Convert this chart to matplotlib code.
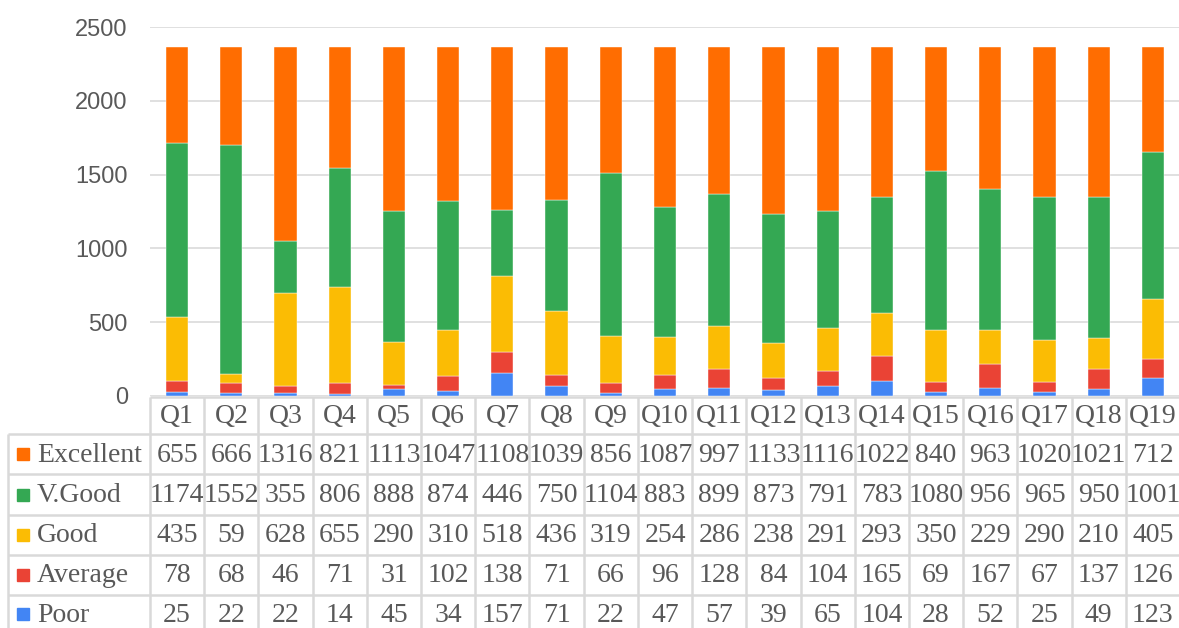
import matplotlib
matplotlib.use("Agg")
import matplotlib.pyplot as plt
from matplotlib.transforms import blended_transform_factory
from matplotlib.patches import Rectangle
import numpy as np

categories = [f"Q{i}" for i in range(1, 20)]
series_names = ["Excellent", "V.Good", "Good", "Average", "Poor"]
excellent = [655, 666, 1316, 821, 1113, 1047, 1108, 1039, 856, 1087, 997, 1133, 1116, 1022, 840, 963, 1020, 1021, 712]
vgood = [1174, 1552, 355, 806, 888, 874, 446, 750, 1104, 883, 899, 873, 791, 783, 1080, 956, 965, 950, 1001]
good = [435, 59, 628, 655, 290, 310, 518, 436, 319, 254, 286, 238, 291, 293, 350, 229, 290, 210, 405]
average = [78, 68, 46, 71, 31, 102, 138, 71, 66, 96, 128, 84, 104, 165, 69, 167, 67, 137, 126]
poor = [25, 22, 22, 14, 45, 34, 157, 71, 22, 47, 57, 39, 65, 104, 28, 52, 25, 49, 123]
yticks = [0, 500, 1000, 1500, 2000, 2500]

colors = {"Excellent": "#FF6D01", "V.Good": "#34A853", "Good": "#FBBC04",
          "Average": "#EA4335", "Poor": "#4285F4"}
values = {"Excellent": excellent, "V.Good": vgood, "Good": good,
          "Average": average, "Poor": poor}

W, H = 1179, 628
fig = plt.figure(figsize=(W / 100, H / 100), dpi=100)
fig.patch.set_facecolor("white")

ax = fig.add_axes([150 / W, 232 / H, 1030 / W, 369 / H])
x = np.arange(len(categories))
bottom = np.zeros(len(categories))
for name in ["Poor", "Average", "Good", "V.Good", "Excellent"]:
    v = np.array(values[name], dtype=float)
    ax.bar(x, v, bottom=bottom, width=0.41, color=colors[name],
           edgecolor="white", linewidth=0.3, zorder=3)
    bottom += v

ax.set_xlim(-0.5, 18.5)
ax.set_ylim(0, 2500)
ax.set_yticks(yticks)
ax.set_yticklabels([str(t) for t in yticks], fontsize=17,
                   fontfamily="Liberation Sans", color="#595959")
ax.tick_params(axis="y", length=0, pad=16)
ax.set_xticks([])
ax.yaxis.grid(True, color="#e0e0e0", linewidth=1.4, zorder=0)
for s in ax.spines.values():
    s.set_visible(False)

# table overlay in pixel coordinates
tab = fig.add_axes([0, 0, 1, 1], zorder=5)
tab.set_xlim(0, W)
tab.set_ylim(H, 0)
tab.axis("off")
tab.patch.set_alpha(0)
tr = blended_transform_factory(ax.transData, tab.transData)

line_c = "#d9d9d9"
lw = 1.8
row_edges = [397, 434, 474, 515, 555, 595]
tab.plot([-0.5, 18.5], [row_edges[0]] * 2, color=line_c, lw=lw, transform=tr,
         solid_capstyle="butt")
for yy in row_edges[1:]:
    tab.plot([8, W], [yy, yy], color=line_c, lw=lw, solid_capstyle="butt")
for k in range(len(categories) + 1):
    tab.plot([k - 0.5, k - 0.5], [row_edges[0], H], color=line_c, lw=lw,
             transform=tr, solid_capstyle="butt")
tab.plot([8, 8], [row_edges[1], H], color=line_c, lw=lw, solid_capstyle="butt")

txt_c = "#595959"
tfont = "Liberation Serif"
fs = 20
hdr_c = (row_edges[0] + row_edges[1]) / 2
for i, c in enumerate(categories):
    tab.text(i, hdr_c + 1, c, transform=tr, ha="center", va="center",
             fontsize=fs, fontfamily=tfont, color=txt_c)

row_centers = [(row_edges[i] + row_edges[i + 1]) / 2 for i in range(1, 5)] + [614]
for r, name in enumerate(series_names):
    yc = row_centers[r]
    tab.add_patch(Rectangle((17, yc - 6), 12, 12, color=colors[name]))
    tab.text(37, yc + 1, name, ha="left", va="center", fontsize=fs,
             fontfamily=tfont, color=txt_c)
    for i, v in enumerate(values[name]):
        tab.text(i, yc + 1, str(v), transform=tr, ha="center", va="center",
                 fontsize=fs, fontfamily=tfont, color=txt_c)

fig.savefig("out.png", dpi=100, facecolor="white")
